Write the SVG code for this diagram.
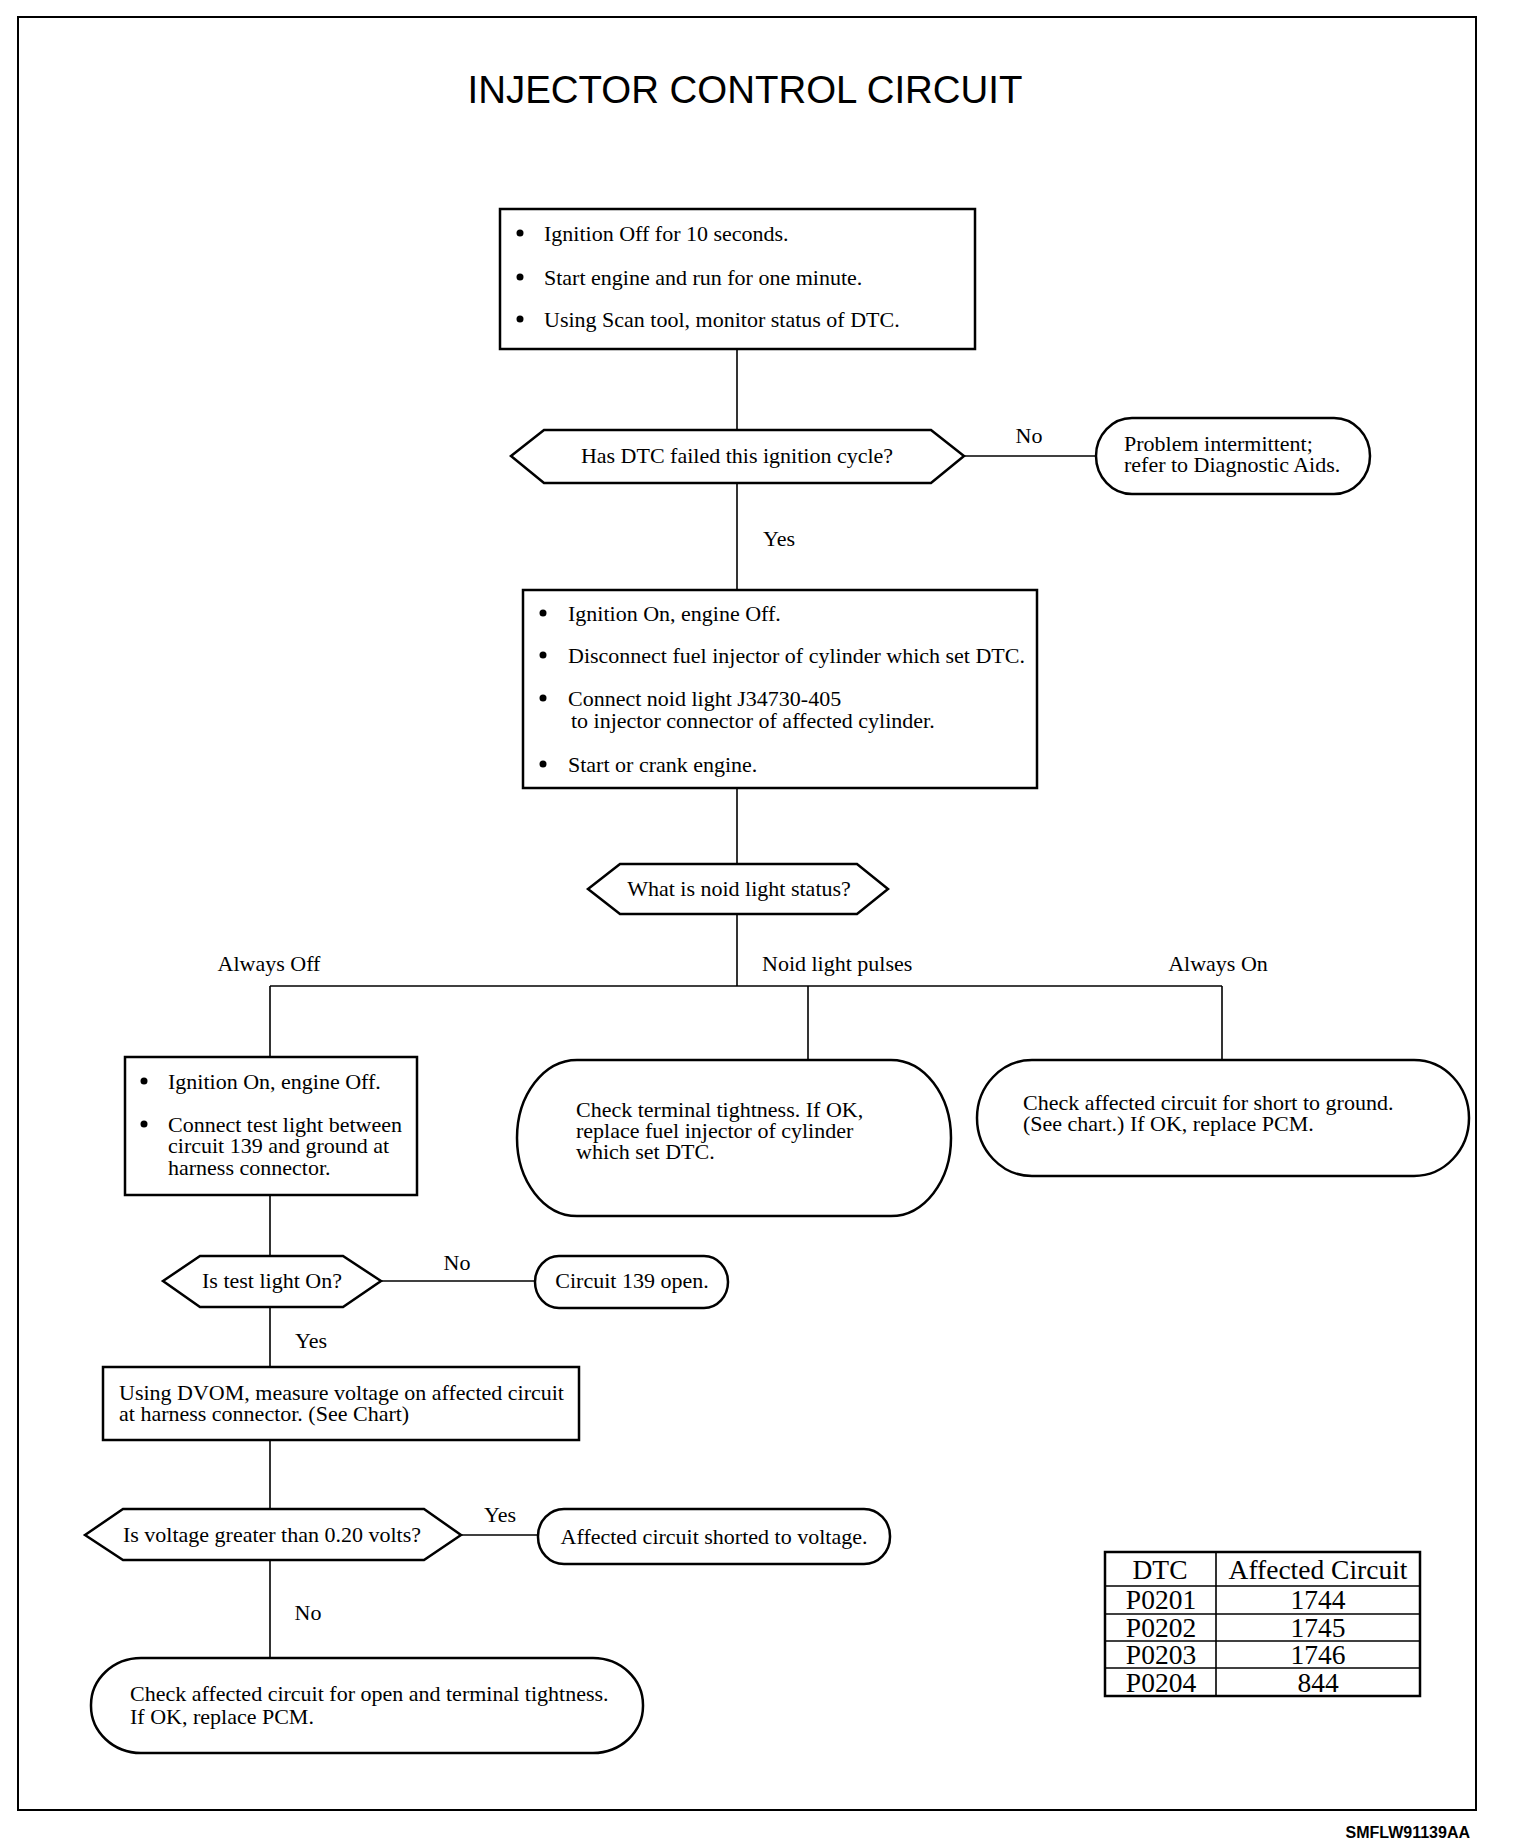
<svg xmlns="http://www.w3.org/2000/svg" width="1520" height="1848" viewBox="0 0 1520 1848">
<style>
.bx{fill:#fff;stroke:#000;stroke-width:2.5}
.ln{fill:none;stroke:#000;stroke-width:1.6}
.t{font-family:"Liberation Serif","Times New Roman",serif;font-size:22px;fill:#000}
.m{text-anchor:middle}
.tb{font-family:"Liberation Serif","Times New Roman",serif;font-size:27.5px;fill:#000;text-anchor:middle}
.dot{fill:#000}
</style>
<rect x="0" y="0" width="1520" height="1848" fill="#fff"/>
<rect x="18" y="17" width="1458" height="1793" fill="none" stroke="#000" stroke-width="2"/>
<text x="745" y="103" font-family="'Liberation Sans',Arial,sans-serif" font-size="39" text-anchor="middle" textLength="555" lengthAdjust="spacingAndGlyphs">INJECTOR CONTROL CIRCUIT</text>

<g id="connectors">
<line class="ln" x1="737" y1="349" x2="737" y2="430"/>
<line class="ln" x1="964" y1="456" x2="1096" y2="456"/>
<line class="ln" x1="737" y1="483" x2="737" y2="590"/>
<line class="ln" x1="737" y1="788" x2="737" y2="864"/>
<line class="ln" x1="737" y1="914" x2="737" y2="986"/>
<line class="ln" x1="270" y1="986" x2="1222" y2="986"/>
<line class="ln" x1="270" y1="986" x2="270" y2="1057"/>
<line class="ln" x1="808" y1="986" x2="808" y2="1060"/>
<line class="ln" x1="1222" y1="986" x2="1222" y2="1060"/>
<line class="ln" x1="270" y1="1195" x2="270" y2="1256"/>
<line class="ln" x1="381" y1="1281" x2="535" y2="1281"/>
<line class="ln" x1="270" y1="1307" x2="270" y2="1367"/>
<line class="ln" x1="270" y1="1440" x2="270" y2="1509"/>
<line class="ln" x1="461" y1="1535" x2="538" y2="1535"/>
<line class="ln" x1="270" y1="1560" x2="270" y2="1658"/>
<text class="t m" x="1029" y="443">No</text>
<text class="t m" x="779" y="546">Yes</text>
<text class="t m" x="269" y="971">Always Off</text>
<text class="t" x="762" y="971">Noid light pulses</text>
<text class="t m" x="1218" y="971">Always On</text>
<text class="t m" x="457" y="1270">No</text>
<text class="t m" x="311" y="1348">Yes</text>
<text class="t m" x="500" y="1522">Yes</text>
<text class="t m" x="308" y="1620">No</text>
</g>

<g id="box1">
<rect class="bx" x="500" y="209" width="475" height="140"/>
<circle class="dot" cx="520" cy="233" r="3.5"/>
<circle class="dot" cx="520" cy="277" r="3.5"/>
<circle class="dot" cx="520" cy="319" r="3.5"/>
<text class="t" x="544" y="241">Ignition Off for 10 seconds.</text>
<text class="t" x="544" y="285">Start engine and run for one minute.</text>
<text class="t" x="544" y="327">Using Scan tool, monitor status of DTC.</text>
</g>

<g id="dec1">
<polygon class="bx" points="511,456 544,430 931,430 964,456 931,483 544,483"/>
<text class="t m" x="737" y="463">Has DTC failed this ignition cycle?</text>
</g>

<g id="term1">
<rect class="bx" x="1096" y="418" width="274" height="76" rx="36" ry="38"/>
<text class="t" x="1124" y="451">Problem intermittent;</text>
<text class="t" x="1124" y="472">refer to Diagnostic Aids.</text>
</g>

<g id="box2">
<rect class="bx" x="523" y="590" width="514" height="198"/>
<circle class="dot" cx="543" cy="613" r="3.5"/>
<circle class="dot" cx="543" cy="655" r="3.5"/>
<circle class="dot" cx="543" cy="698" r="3.5"/>
<circle class="dot" cx="543" cy="764" r="3.5"/>
<text class="t" x="568" y="621">Ignition On, engine Off.</text>
<text class="t" x="568" y="663">Disconnect fuel injector of cylinder which set DTC.</text>
<text class="t" x="568" y="706">Connect noid light J34730-405</text>
<text class="t" x="571" y="728">to injector connector of affected cylinder.</text>
<text class="t" x="568" y="772">Start or crank engine.</text>
</g>

<g id="dec2">
<polygon class="bx" points="588,889 620,864 857,864 888,889 857,914 620,914"/>
<text class="t m" x="739" y="896">What is noid light status?</text>
</g>

<g id="box3">
<rect class="bx" x="125" y="1057" width="292" height="138"/>
<circle class="dot" cx="144" cy="1081" r="3.5"/>
<circle class="dot" cx="144" cy="1124" r="3.5"/>
<text class="t" x="168" y="1089">Ignition On, engine Off.</text>
<text class="t" x="168" y="1132">Connect test light between</text>
<text class="t" x="168" y="1153">circuit 139 and ground at</text>
<text class="t" x="168" y="1175">harness connector.</text>
</g>

<g id="term2">
<rect class="bx" x="517" y="1060" width="434" height="156" rx="60" ry="78"/>
<text class="t" x="576" y="1117">Check terminal tightness. If OK,</text>
<text class="t" x="576" y="1138">replace fuel injector of cylinder</text>
<text class="t" x="576" y="1159">which set DTC.</text>
</g>

<g id="term3">
<rect class="bx" x="977" y="1060" width="492" height="116" rx="55" ry="58"/>
<text class="t" x="1023" y="1110">Check affected circuit for short to ground.</text>
<text class="t" x="1023" y="1131">(See chart.) If OK, replace PCM.</text>
</g>

<g id="dec3">
<polygon class="bx" points="163,1281 200,1256 343,1256 381,1281 343,1307 200,1307"/>
<text class="t m" x="272" y="1288">Is test light On?</text>
</g>

<g id="term4">
<rect class="bx" x="535" y="1256" width="193" height="52" rx="24" ry="26"/>
<text class="t m" x="632" y="1288">Circuit 139 open.</text>
</g>

<g id="box4">
<rect class="bx" x="103" y="1367" width="476" height="73"/>
<text class="t" x="119" y="1400">Using DVOM, measure voltage on affected circuit</text>
<text class="t" x="119" y="1421">at harness connector. (See Chart)</text>
</g>

<g id="dec4">
<polygon class="bx" points="85,1535 123,1509 424,1509 461,1535 424,1560 123,1560"/>
<text class="t m" x="272" y="1542">Is voltage greater than 0.20 volts?</text>
</g>

<g id="term5">
<rect class="bx" x="538" y="1509" width="352" height="55" rx="26" ry="27"/>
<text class="t m" x="714" y="1544">Affected circuit shorted to voltage.</text>
</g>

<g id="term6">
<rect class="bx" x="91" y="1658" width="552" height="95" rx="50" ry="47"/>
<text class="t" x="130" y="1701">Check affected circuit for open and terminal tightness.</text>
<text class="t" x="130" y="1724">If OK, replace PCM.</text>
</g>

<g id="table">
<rect class="bx" x="1105" y="1552" width="315" height="144"/>
<line class="ln" x1="1216" y1="1552" x2="1216" y2="1696" stroke-width="2.5"/>
<line class="ln" x1="1105" y1="1586" x2="1420" y2="1586" stroke-width="2.5"/>
<line class="ln" x1="1105" y1="1614" x2="1420" y2="1614"/>
<line class="ln" x1="1105" y1="1641" x2="1420" y2="1641"/>
<line class="ln" x1="1105" y1="1668" x2="1420" y2="1668"/>
<text class="tb" x="1160" y="1579">DTC</text>
<text class="tb" x="1318" y="1579">Affected Circuit</text>
<text class="tb" x="1161" y="1609">P0201</text>
<text class="tb" x="1318" y="1609">1744</text>
<text class="tb" x="1161" y="1637">P0202</text>
<text class="tb" x="1318" y="1637">1745</text>
<text class="tb" x="1161" y="1664">P0203</text>
<text class="tb" x="1318" y="1664">1746</text>
<text class="tb" x="1161" y="1692">P0204</text>
<text class="tb" x="1318" y="1692">844</text>
</g>

<text x="1470" y="1838" font-family="'Liberation Sans',Arial,sans-serif" font-size="16" font-weight="bold" text-anchor="end">SMFLW91139AA</text>
</svg>
